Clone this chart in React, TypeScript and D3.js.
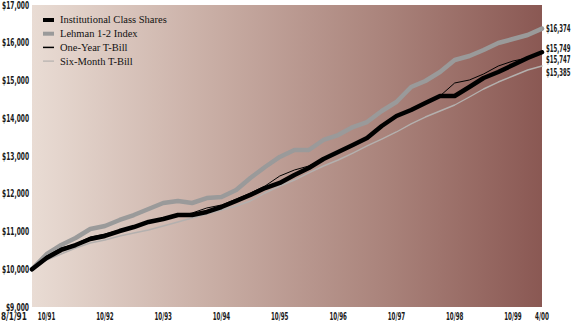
import React from "react";
import * as d3 from "d3";

const dates = [
  "1991-08-01", "1991-10-31", "1992-01-31", "1992-04-30", "1992-07-31", "1992-10-31",
  "1993-01-31", "1993-04-30", "1993-07-31", "1993-10-31", "1994-01-31", "1994-04-30",
  "1994-07-31", "1994-10-31", "1995-01-31", "1995-04-30", "1995-07-31", "1995-10-31",
  "1996-01-31", "1996-04-30", "1996-07-31", "1996-10-31", "1997-01-31", "1997-04-30",
  "1997-07-31", "1997-10-31", "1998-01-31", "1998-04-30", "1998-07-31", "1998-10-31",
  "1999-01-31", "1999-04-30", "1999-07-31", "1999-10-31", "2000-01-31", "2000-04-30",
];

const institutional = [10000, 10298, 10510, 10642, 10801, 10881, 11013, 11119, 11252, 11331, 11437, 11437, 11517, 11649, 11808, 11967, 12152, 12285, 12497, 12682, 12921, 13106, 13291, 13477, 13795, 14060, 14219, 14404, 14590, 14590, 14828, 15066, 15225, 15411, 15596, 15749];
const lehman = [10000, 10397, 10642, 10828, 11066, 11146, 11305, 11437, 11596, 11755, 11808, 11755, 11887, 11914, 12100, 12417, 12709, 12974, 13159, 13159, 13424, 13556, 13768, 13900, 14192, 14430, 14828, 14987, 15225, 15543, 15649, 15808, 15993, 16099, 16205, 16374];
const oneYear = [10000, 10350, 10563, 10669, 10854, 10934, 11040, 11146, 11252, 11331, 11411, 11490, 11623, 11702, 11861, 12020, 12205, 12470, 12629, 12735, 12921, 13106, 13291, 13450, 13795, 14033, 14219, 14404, 14590, 14934, 15013, 15172, 15384, 15516, 15596, 15747];
const sixMonth = [10000, 10245, 10404, 10563, 10695, 10775, 10881, 10960, 11040, 11146, 11252, 11358, 11464, 11570, 11676, 11808, 12020, 12205, 12364, 12550, 12735, 12894, 13079, 13265, 13450, 13636, 13848, 14033, 14192, 14351, 14563, 14775, 14960, 15119, 15278, 15385];

const yTicks = [9000, 10000, 11000, 12000, 13000, 14000, 15000, 16000, 17000];
const xTickDates = ["1991-10-31", "1992-10-31", "1993-10-31", "1994-10-31", "1995-10-31", "1996-10-31", "1997-10-31", "1998-10-31", "1999-10-31", "2000-04-30"];
const xTickLabels = ["10/91", "10/92", "10/93", "10/94", "10/95", "10/96", "10/97", "10/98", "10/99", "4/00"];
const startLabel = "8/1/91";

const legendNames = ["Institutional Class Shares", "Lehman 1-2 Index", "One-Year T-Bill", "Six-Month T-Bill"];
const endLabels = ["$16,374", "$15,749", "$15,747", "$15,385"];

const W = 575, H = 322;
const left = 32, right = 542, top = 5, bottom = 307;
const labelFont = "'DejaVu Sans', sans-serif";

function Lbl(props: { x: number; y: number; text: string; anchor?: string; perChar: number; dy?: string; size?: number }) {
  const { x, y, text, anchor, perChar, dy, size } = props;
  return (
    <text x={x} y={y} dy={dy} textAnchor={anchor || "start"} fontFamily={labelFont} fontWeight="bold"
      fontStretch="condensed" fontSize={size || 10.5} fill="#1a1a1a" textLength={text.length * perChar}
      lengthAdjust="spacingAndGlyphs">
      {text}
    </text>
  );
}

export default function App() {
  const parse = d3.utcParse("%Y-%m-%d");
  const dts = dates.map((d) => parse(d) as Date);
  const x = d3.scaleUtc().domain([dts[0], dts[dts.length - 1]]).range([left, right]);
  const y = d3.scaleLinear().domain([9000, 17000]).range([bottom, top]);
  const line = d3.line<number>().x((_, i) => x(dts[i])).y((v) => y(v)).curve(d3.curveLinear);

  const series = [
    { name: legendNames[3], data: sixMonth, color: "#b4b0ae", width: 1.4 },
    { name: legendNames[1], data: lehman, color: "#9a9a9a", width: 4.5 },
    { name: legendNames[0], data: institutional, color: "#000", width: 4.5 },
    { name: legendNames[2], data: oneYear, color: "#000", width: 1 },
  ];

  const legend = [
    { name: legendNames[0], color: "#000", width: 4 },
    { name: legendNames[1], color: "#9a9a9a", width: 4 },
    { name: legendNames[2], color: "#000", width: 1.5 },
    { name: legendNames[3], color: "#b4b0ae", width: 1.2 },
  ];

  const endYs = [28, 48, 59, 72];

  return (
    <div style={{ position: "fixed", left: 0, top: 0 }}>
      <svg width={W} height={H} style={{ display: "block", background: "#fff" }}>
        <defs>
          <linearGradient id="bg" x1="0" x2="1" y1="0" y2="0">
            <stop offset="0%" stopColor="#e9dcd4" />
            <stop offset="35%" stopColor="#c9aea5" />
            <stop offset="70%" stopColor="#a9827a" />
            <stop offset="100%" stopColor="#8a5853" />
          </linearGradient>
        </defs>
        <rect x={left} y={top} width={right - left} height={bottom - top} fill="url(#bg)" />
        {yTicks.map((t) => (
          <Lbl key={t} x={29} y={y(t)} dy="0.35em" anchor="end" perChar={3.85} text={"$" + d3.format(",")(t)} />
        ))}
        <Lbl x={1} y={320} perChar={4.3} text={startLabel} />
        {xTickDates.map((d, i) => (
          <Lbl key={d} x={x(parse(d) as Date)} y={320} anchor="middle" perChar={3.5} text={xTickLabels[i]} />
        ))}
        {series.map((s) => (
          <path key={s.name} d={line(s.data) || ""} fill="none" stroke={s.color} strokeWidth={s.width}
            strokeLinejoin="round" strokeLinecap="round" />
        ))}
        {legend.map((l, i) => (
          <g key={l.name} transform={`translate(0,${20 + i * 13.7})`}>
            <line x1={43} x2={54} y1={0} y2={0} stroke={l.color} strokeWidth={l.width} />
            <text x={60} y={0} dy="0.33em" fontFamily="'Liberation Serif', 'Times New Roman', serif"
              fontSize={10.5} fill="#111">{l.name}</text>
          </g>
        ))}
        {endLabels.map((t, i) => (
          <Lbl key={t} x={546} y={endYs[i]} dy="0.35em" perChar={3.5} size={10} text={t} />
        ))}
      </svg>
    </div>
  );
}
